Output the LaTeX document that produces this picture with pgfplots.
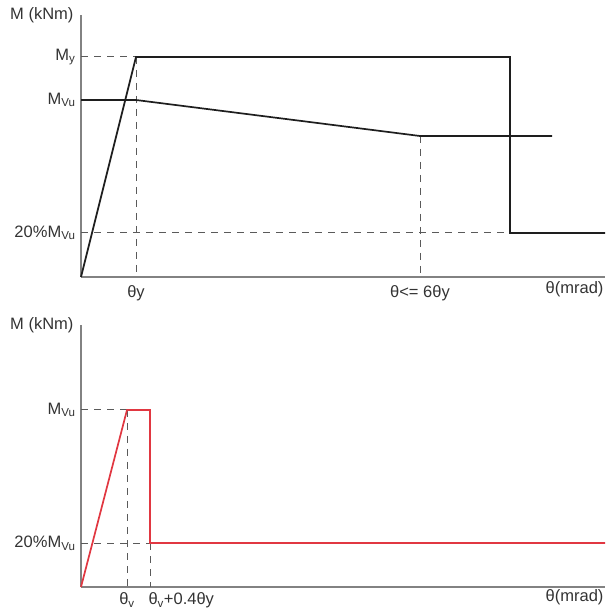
\documentclass[border=0pt]{standalone}
\usepackage{pgfplots}
\pgfplotsset{compat=1.18}
\usepackage{fontspec}
\setmainfont{Liberation Sans}
\definecolor{axgray}{RGB}{130,130,130}
\definecolor{dashgray}{RGB}{90,90,90}
\definecolor{lineblack}{RGB}{30,30,30}
\definecolor{myred}{RGB}{225,55,65}
\begin{document}
\begin{tikzpicture}[x=1pt,y=1pt]
\path[use as bounding box] (0,0) rectangle (608,611);
\pgfplotsset{
  every axis/.append style={
    scale only axis, width=524pt,
    xmin=0, xmax=524, ymin=0,
    axis x line=bottom, axis y line=left,
    axis line style={axgray, line width=1.2pt, -},
    major tick length=0pt,
    tick style={draw=none},
    font=\fontsize{16.5}{19}\selectfont,
    xticklabel style={anchor=north, yshift=-5pt, text=black!80},
    yticklabel style={anchor=east, xshift=-2pt, text=black!80},
    xlabel style={at={(rel axis cs:1,0)}, anchor=north east, yshift=-1pt, xshift=2pt, text=black!80},
    ylabel style={at={(rel axis cs:0,1)}, anchor=east, rotate=-90, xshift=-4pt, text=black!80},
    anchor=south west, clip=false,
  },
}
% ---------- top ----------
\begin{axis}[
  at={(81,334)}, height=262pt, ymax=262,
  xtick={55,339}, xticklabels={θy, θ<= 6θy},
  ytick={44,177,220}, yticklabels={20\%M\textsubscript{Vu}, M\textsubscript{Vu}, M\textsubscript{y}},
  xlabel={θ(mrad)},
  ylabel={M (kNm)},
]
\addplot[dashgray, line width=1pt, dash pattern=on 7pt off 6pt] coordinates {(0,220) (55,220)};
\addplot[dashgray, line width=1pt, dash pattern=on 7pt off 6pt] coordinates {(55,220) (55,0)};
\addplot[dashgray, line width=1pt, dash pattern=on 7pt off 6pt] coordinates {(0,44) (429,44)};
\addplot[dashgray, line width=1pt, dash pattern=on 7pt off 6pt] coordinates {(339,141) (339,0)};
\addplot[lineblack, line width=1.7pt] coordinates {(0,0) (55,220) (429,220) (429,44) (524,44)};
\addplot[lineblack, line width=1.7pt] coordinates {(0,177) (55,177) (339,141) (471,141)};
\end{axis}
% ---------- bottom ----------
\begin{axis}[
  at={(81,24)}, height=262pt, ymax=262,
  xticklabel style={yshift=3pt},
  xtick={46,69}, xticklabels={θ\textsubscript{v}, \hspace{-3pt}\rlap{θ\textsubscript{v}+0.4θy}},
  ytick={44,177}, yticklabels={20\%M\textsubscript{Vu}, M\textsubscript{Vu}},
  xlabel={θ(mrad)},
  xlabel style={yshift=2pt},
  ylabel={M (kNm)},
]
\addplot[dashgray, line width=1pt, dash pattern=on 7pt off 6pt] coordinates {(0,177) (46,177)};
\addplot[dashgray, line width=1pt, dash pattern=on 7pt off 6pt] coordinates {(46,177) (46,0)};
\addplot[dashgray, line width=1pt, dash pattern=on 7pt off 6pt] coordinates {(0,44) (69,44)};
\addplot[dashgray, line width=1pt, dash pattern=on 7pt off 6pt] coordinates {(69,44) (69,0)};
\addplot[myred, line width=1.7pt] coordinates {(0,0) (46,177) (69,177) (69,44) (524,44)};
\end{axis}
\end{tikzpicture}
\end{document}
